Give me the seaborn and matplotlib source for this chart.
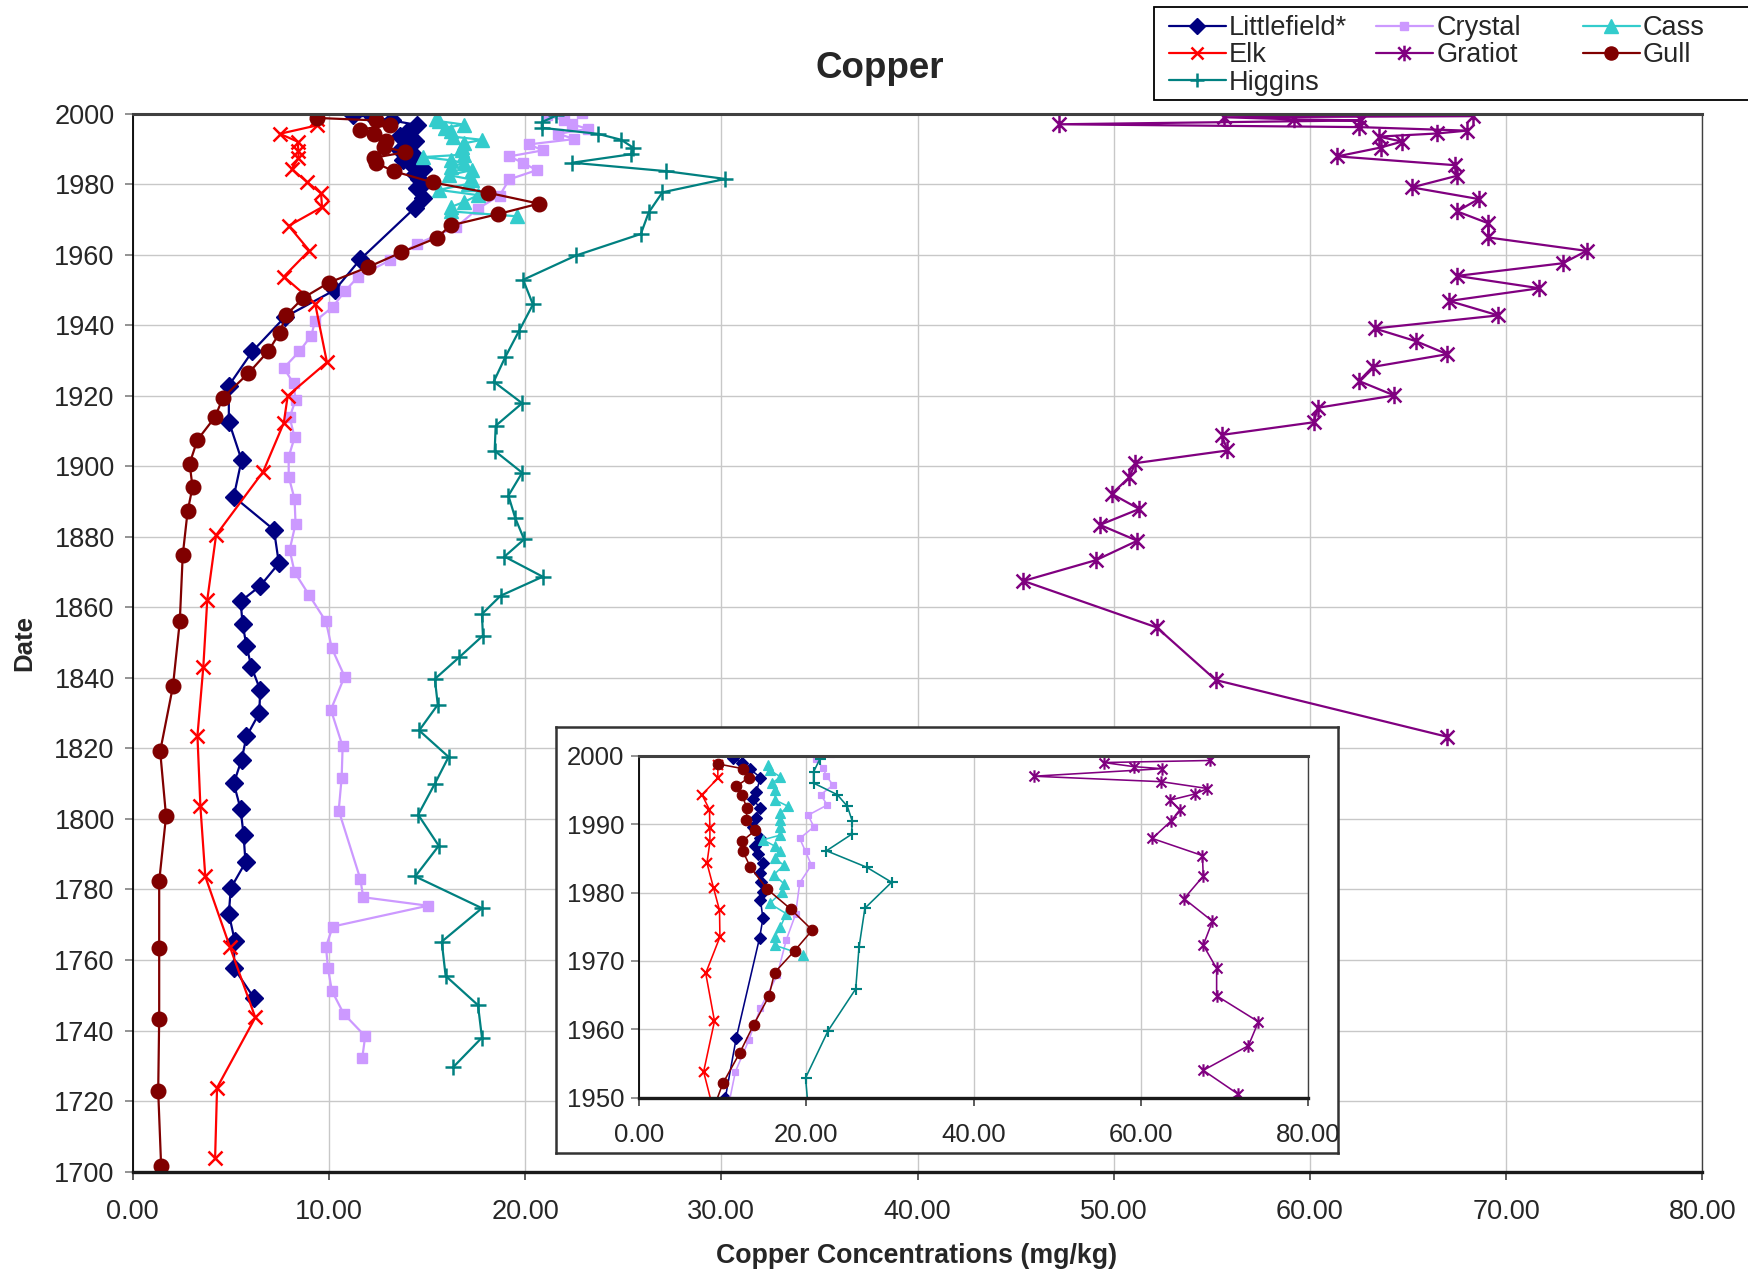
import matplotlib
matplotlib.use("Agg")
import matplotlib.pyplot as plt
from matplotlib.lines import Line2D
from matplotlib.patches import Rectangle
from matplotlib.path import Path
from matplotlib.ticker import FormatStrFormatter
import seaborn as sns

# ---------------- data ----------------
lf_year = [1999.6, 1999.0, 1998.1, 1996.8, 1994.7, 1993.7, 1992.4, 1990.9, 1989.6, 1988.0, 1986.8,
           1985.7, 1984.3, 1982.8, 1981.6, 1980.1, 1978.9, 1976.2, 1973.4, 1958.7, 1950.0, 1942.3,
           1932.6, 1922.9, 1912.7, 1901.8, 1891.4, 1882.0, 1872.5, 1866.1, 1861.7, 1855.3, 1849.1,
           1843.1, 1836.6, 1830.0, 1823.4, 1816.8, 1810.1, 1802.8, 1795.5, 1787.7, 1780.4, 1773.1,
           1765.5, 1757.8, 1749.1]
lf_cu = [11.25, 12.25, 13.2, 14.5, 14.0, 13.6, 14.4, 14.0, 13.6, 14.4, 13.8,
         14.2, 14.8, 14.4, 14.6, 14.8, 14.5, 14.8, 14.4, 11.6, 10.3, 7.75,
         6.1, 4.9, 4.9, 5.55, 5.15, 7.2, 7.45, 6.5, 5.5, 5.6, 5.8,
         6.05, 6.5, 6.45, 5.8, 5.55, 5.15, 5.5, 5.65, 5.75, 5.0, 4.9,
         5.2, 5.15, 6.2]

elk_year = [1998.6, 1996.7, 1994.3, 1992.1, 1989.4, 1987.4, 1984.3, 1980.6, 1977.4, 1973.5, 1968.2,
            1961.2, 1953.8, 1946.1, 1929.5, 1920.0, 1912.3, 1898.5, 1880.5, 1862.1, 1843.2, 1823.6,
            1803.6, 1783.7, 1763.8, 1743.7, 1723.8, 1703.8]
elk_cu = [9.4, 9.4, 7.5, 8.4, 8.45, 8.45, 8.1, 8.9, 9.6, 9.65, 7.95,
          9.0, 7.7, 9.3, 9.9, 7.9, 7.7, 6.65, 4.25, 3.8, 3.6, 3.3,
          3.45, 3.7, 4.95, 6.25, 4.3, 4.2]

hig_year = [1999.5, 1997.6, 1996.0, 1994.3, 1992.6, 1990.4, 1988.5, 1986.1, 1983.7, 1981.5, 1977.7,
            1972.0, 1965.9, 1959.8, 1952.9, 1945.9, 1938.5, 1931.1, 1924.0, 1917.9, 1911.5, 1904.4,
            1898.2, 1891.7, 1885.3, 1879.3, 1874.4, 1868.7, 1863.3, 1858.1, 1852.0, 1845.9, 1839.7,
            1832.4, 1825.1, 1817.6, 1810.0, 1801.2, 1792.4, 1783.7, 1774.7, 1765.2, 1755.5, 1747.2,
            1738.0, 1729.7]
hig_cu = [21.6, 20.85, 20.85, 23.7, 24.9, 25.5, 25.4, 22.4, 27.2, 30.2, 27.0,
          26.3, 25.9, 22.6, 19.9, 20.4, 19.7, 19.0, 18.4, 19.85, 18.5, 18.45,
          19.85, 19.15, 19.5, 19.95, 18.95, 20.9, 18.75, 17.8, 17.85, 16.65, 15.4,
          15.55, 14.6, 16.1, 15.4, 14.55, 15.6, 14.4, 17.8, 15.75, 15.95, 17.6,
          17.8, 16.35]

cry_year = [2000.2, 1999.5, 1998.2, 1997.0, 1995.7, 1994.3, 1992.8, 1991.3, 1989.6, 1987.9, 1986.0,
            1984.0, 1981.4, 1976.8, 1973.1, 1967.9, 1963.1, 1958.4, 1953.8, 1949.6, 1945.2, 1941.2,
            1937.1, 1932.6, 1927.9, 1923.5, 1918.8, 1913.9, 1908.2, 1902.7, 1897.1, 1890.7, 1883.7,
            1876.3, 1870.0, 1863.4, 1856.0, 1848.4, 1840.4, 1831.0, 1820.6, 1811.7, 1802.4, 1783.0,
            1777.8, 1775.4, 1769.5, 1763.8, 1757.8, 1751.3, 1744.8, 1738.4, 1732.2]
cry_cu = [22.9, 21.1, 22.0, 22.4, 23.2, 21.7, 22.5, 20.2, 20.9, 19.2, 19.9,
          20.6, 19.2, 18.7, 17.6, 16.5, 14.5, 13.1, 11.5, 10.8, 10.2, 9.3,
          9.1, 8.5, 7.7, 8.2, 8.3, 8.0, 8.25, 7.95, 7.95, 8.25, 8.3,
          8.0, 8.25, 9.0, 9.85, 10.15, 10.8, 10.1, 10.7, 10.65, 10.5, 11.6,
          11.75, 15.05, 10.2, 9.85, 9.95, 10.15, 10.75, 11.85, 11.7]

gra_year = [1999.3, 1999.0, 1998.4, 1998.1, 1997.0, 1996.2, 1995.2, 1994.4, 1993.5, 1992.1, 1990.4,
            1987.9, 1985.4, 1982.4, 1979.1, 1975.8, 1972.3, 1968.9, 1964.9, 1961.1, 1957.6, 1954.0,
            1950.5, 1946.9, 1942.8, 1939.1, 1935.5, 1931.8, 1928.2, 1924.2, 1920.1, 1916.6, 1912.5,
            1908.9, 1904.5, 1900.9, 1896.9, 1892.2, 1887.9, 1883.4, 1878.9, 1873.4, 1867.5, 1854.3,
            1839.4, 1823.3]
gra_cu = [68.3, 55.6, 59.2, 62.6, 47.2, 62.5, 68.0, 66.5, 63.5, 64.7, 63.6,
          61.4, 67.4, 67.5, 65.2, 68.6, 67.5, 69.1, 69.1, 74.1, 72.9, 67.5,
          71.7, 67.1, 69.6, 63.3, 65.4, 67.0, 63.2, 62.5, 64.3, 60.4, 60.2,
          55.5, 55.8, 51.1, 50.8, 49.9, 51.3, 49.3, 51.2, 49.1, 45.4, 52.2,
          55.2, 67.0]

cas_year = [1998.6, 1997.9, 1996.9, 1996.0, 1995.0, 1993.5, 1992.6, 1991.6, 1990.6, 1989.6, 1988.4,
            1987.7, 1986.8, 1986.0, 1985.0, 1984.0, 1982.6, 1981.3, 1980.1, 1978.4, 1976.9, 1975.0,
            1973.5, 1972.3, 1970.9]
cas_cu = [15.45, 15.6, 16.9, 15.9, 16.2, 16.3, 17.8, 16.9, 16.8, 16.8, 16.9,
          14.8, 16.2, 16.9, 16.2, 17.3, 16.1, 17.3, 17.1, 15.6, 17.6, 16.9,
          16.2, 16.2, 19.6]

gul_year = [1998.8, 1998.1, 1996.8, 1995.5, 1994.2, 1992.3, 1990.6, 1989.1, 1987.5, 1986.0, 1983.7,
            1980.5, 1977.6, 1974.5, 1971.5, 1968.3, 1964.8, 1960.7, 1956.5, 1952.1, 1947.8, 1942.8,
            1937.9, 1932.6, 1926.4, 1919.5, 1914.0, 1907.5, 1900.8, 1894.1, 1887.3, 1874.8, 1856.0,
            1837.6, 1819.2, 1800.8, 1782.3, 1763.3, 1743.4, 1722.8, 1701.5]
gul_cu = [9.4, 12.4, 13.1, 11.6, 12.3, 12.9, 12.8, 13.9, 12.3, 12.4, 13.3,
          15.3, 18.1, 20.7, 18.6, 16.2, 15.5, 13.7, 12.0, 10.0, 8.7, 7.8,
          7.5, 6.9, 5.9, 4.6, 4.2, 3.3, 2.9, 3.05, 2.8, 2.55, 2.4,
          2.05, 1.4, 1.7, 1.35, 1.35, 1.35, 1.3, 1.45]

series_names = ["Littlefield*", "Crystal", "Cass", "Elk", "Gratiot", "Gull", "Higgins"]
x_ticks = [0, 10, 20, 30, 40, 50, 60, 70, 80]
y_ticks = [1700, 1720, 1740, 1760, 1780, 1800, 1820, 1840, 1860, 1880, 1900, 1920, 1940, 1960, 1980, 2000]
inset_x_ticks = [0, 20, 40, 60, 80]
inset_y_ticks = [1950, 1960, 1970, 1980, 1990, 2000]

data = {
    "Littlefield*": (lf_cu, lf_year),
    "Elk": (elk_cu, elk_year),
    "Higgins": (hig_cu, hig_year),
    "Crystal": (cry_cu, cry_year),
    "Gratiot": (gra_cu, gra_year),
    "Cass": (cas_cu, cas_year),
    "Gull": (gul_cu, gul_year),
}

# Excel-like asterisk: vertical bar + X
ast = Path([(0, -1), (0, 1), (-0.8, -0.8), (0.8, 0.8), (-0.8, 0.8), (0.8, -0.8)],
           [Path.MOVETO, Path.LINETO, Path.MOVETO, Path.LINETO, Path.MOVETO, Path.LINETO])

styles = {
    "Littlefield*": dict(color="#000080", marker="D", ms=9, mew=1.0),
    "Elk": dict(color="#FF0000", marker="x", ms=10, mew=1.8),
    "Higgins": dict(color="#008080", marker="+", ms=11, mew=1.8),
    "Crystal": dict(color="#CC99FF", marker="s", ms=6.5, mew=1.0),
    "Gratiot": dict(color="#800080", marker=ast, ms=12.5, mew=1.8),
    "Cass": dict(color="#33CCCC", marker="^", ms=10.5, mew=1.0),
    "Gull": dict(color="#800000", marker="o", ms=10.5, mew=1.0),
}

# ---------------- style ----------------
sns.set_style("white")
plt.rcParams["font.family"] = ["Liberation Sans", "DejaVu Sans"]

W, H = 1748, 1274
fig = plt.figure(figsize=(W / 100, H / 100), dpi=100)


def fx(px):
    return px / W


def fy(py):
    return 1 - py / H


def draw(axx, lw, msf, mewf):
    for name in series_names:
        cu, yr = data[name]
        st = styles[name]
        sns.lineplot(x=cu, y=yr, ax=axx, sort=False, estimator=None, legend=False,
                     color=st["color"], linewidth=lw, marker=st["marker"],
                     markersize=st["ms"] * msf, markeredgewidth=st["mew"] * mewf,
                     markeredgecolor=st["color"], markerfacecolor=st["color"])


def style_axes(axx, xt, yt, ylim, fs, xpad, ypad):
    axx.set_xlim(0, 80)
    axx.set_ylim(*ylim)
    axx.set_xticks(xt)
    axx.set_yticks(yt)
    axx.xaxis.set_major_formatter(FormatStrFormatter("%.2f"))
    axx.yaxis.set_major_formatter(FormatStrFormatter("%d"))
    axx.grid(True, color="#C8C8C8", linewidth=1.0)
    axx.set_axisbelow(True)
    axx.tick_params(axis="x", direction="out", length=6, width=1.2, color="#404040",
                    labelsize=fs, pad=xpad, bottom=True)
    axx.tick_params(axis="y", direction="out", length=6, width=1.2, color="#808080",
                    labelsize=fs, pad=ypad, left=True)
    axx.set_xlabel("")
    axx.set_ylabel("")
    axx.spines["top"].set_color("#404040")
    axx.spines["top"].set_linewidth(2.2)
    axx.spines["bottom"].set_color("#1a1a1a")
    axx.spines["bottom"].set_linewidth(2.4)
    axx.spines["left"].set_color("#000000")
    axx.spines["left"].set_linewidth(1.3)
    axx.spines["right"].set_color("#404040")
    axx.spines["right"].set_linewidth(1.0)


# main axes
ax = fig.add_axes([fx(132.7), fy(1171.6), fx(1702.3 - 132.7), (1171.6 - 113.7) / H])
draw(ax, 1.6, 1.0, 1.0)
style_axes(ax, x_ticks, y_ticks, (1700, 2000), 19.5, 14, 7)

# inset frame
frame = fig.add_axes([fx(556), fy(1153), fx(1338 - 556), (1153 - 727) / H])
frame.set_facecolor("white")
frame.set_xticks([])
frame.set_yticks([])
for sp in frame.spines.values():
    sp.set_color("#333333")
    sp.set_linewidth(1.8)

# inset axes
axi = fig.add_axes([fx(639.3), fy(1097.7), fx(1307.7 - 639.3), (1097.7 - 755.7) / H])
draw(axi, 1.15, 0.72, 0.85)
style_axes(axi, inset_x_ticks, inset_y_ticks, (1950, 2000), 18.5, 12, 5)

# titles / labels
fig.text(fx(880), fy(69), "Copper", ha="center", va="center", fontsize=26.5, fontweight="bold")
fig.text(fx(24), fy(643), "Date", ha="center", va="center", rotation=90,
         fontsize=18.5, fontweight="bold")
fig.text(fx(917), fy(1256), "Copper Concentrations (mg/kg)", ha="center", va="center",
         fontsize=19.3, fontweight="bold")

# legend frame + three legend columns (row-major layout as in the original)
fig.add_artist(Rectangle((fx(1154), fy(100)), 1.0, (100 - 6.7) / H, transform=fig.transFigure,
                         facecolor="white", edgecolor="#000000", linewidth=1.3, zorder=5))
columns = [["Littlefield*", "Elk", "Higgins"], ["Crystal", "Gratiot"], ["Cass", "Gull"]]
col_x = [1169, 1376, 1583]
for names, x0 in zip(columns, col_x):
    handles = []
    for name in names:
        st = styles[name]
        handles.append(Line2D([], [], color=st["color"], lw=1.6, marker=st["marker"],
                              markersize=st["ms"] * 0.9, markeredgewidth=st["mew"],
                              markeredgecolor=st["color"], markerfacecolor=st["color"]))
    lg = fig.legend(handles, names, loc="upper left", bbox_to_anchor=(fx(x0), fy(15)),
                    bbox_transform=fig.transFigure, fontsize=19.5, frameon=False,
                    handlelength=2.1, handletextpad=0.12, labelspacing=0.05,
                    borderpad=0.0, borderaxespad=0.0)
    lg.set_zorder(6)

fig.savefig("out.png", dpi=100)
